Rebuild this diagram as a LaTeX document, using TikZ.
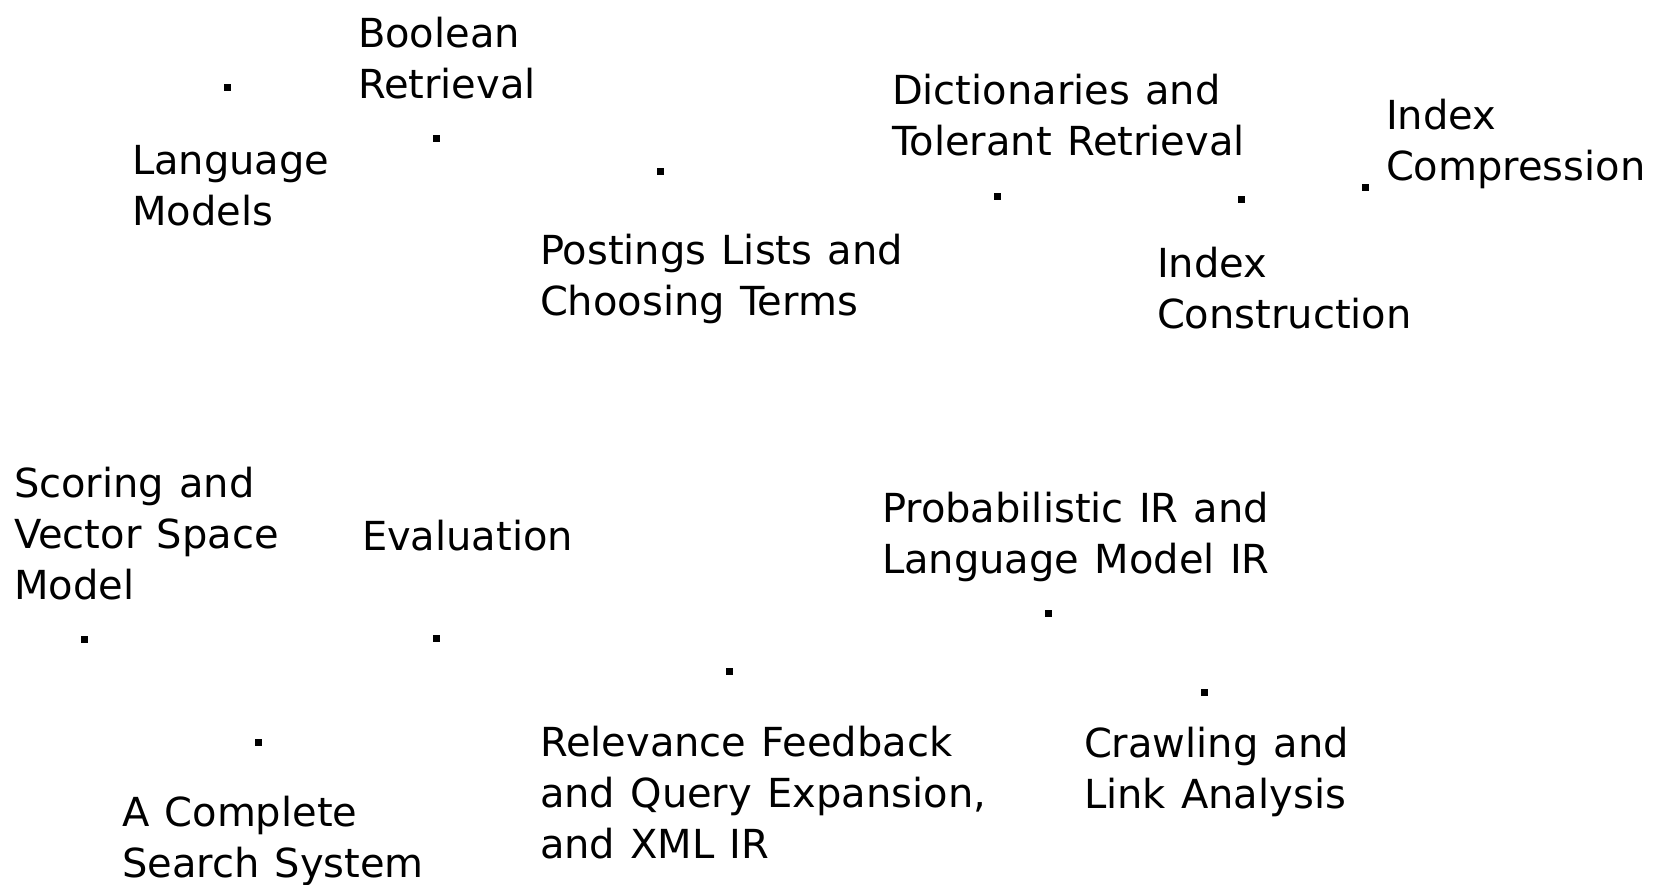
\documentclass[tikz,border=0pt]{standalone}
\usepackage{fontspec}
\setmainfont[WordSpace=1.2]{DejaVu Sans}
\begin{document}
\begin{tikzpicture}[x=1pt,y=-1pt,
  lbl/.style={anchor=base west,inner sep=0pt,outer sep=0pt,align=left,
    font=\fontsize{40}{51}\selectfont},
  dot/.style={rectangle,fill=black,inner sep=0pt,minimum size=7pt}]
\useasboundingbox (0,0) rectangle (1659,884);
% labels (anchored at the baseline of the last line)
\node[lbl] (boolean) at (358,98) {Boolean\\Retrieval};
\node[lbl] (lang) at (132,225) {Language\\Models};
\node[lbl] (postings) at (540,315) {Postings Lists and\\Choosing Terms};
\node[lbl] (dict) at (892,155) {Dictionaries and\\Tolerant Retrieval};
\node[lbl] (icomp) at (1386,180) {Index\\Compression};
\node[lbl] (icons) at (1157,328) {Index\\Construction};
\node[lbl] (scoring) at (14,599) {Scoring and\\Vector Space\\Model};
\node[lbl] (eval) at (362,550) {Evaluation};
\node[lbl] (prob) at (882,573) {Probabilistic IR and\\Language Model IR};
\node[lbl] (relev) at (540,858) {Relevance Feedback\\and Query Expansion,\\and XML IR};
\node[lbl] (crawl) at (1084,808) {Crawling and\\Link Analysis};
\node[lbl] (complete) at (122,877) {A Complete\\Search System};
% dots
\node[dot] (d1) at (227,87) {};
\node[dot] (d2) at (436,138) {};
\node[dot] (d3) at (660,171) {};
\node[dot] (d4) at (997,196) {};
\node[dot] (d5) at (1241,199) {};
\node[dot] (d6) at (1365,187) {};
\node[dot] (d7) at (84,639) {};
\node[dot] (d8) at (436,638) {};
\node[dot] (d9) at (729,671) {};
\node[dot] (d10) at (1048,613) {};
\node[dot] (d11) at (1204,692) {};
\node[dot] (d12) at (258,742) {};
\end{tikzpicture}
\end{document}
